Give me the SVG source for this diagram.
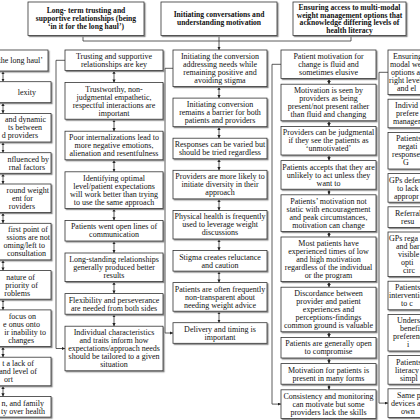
<svg xmlns="http://www.w3.org/2000/svg" width="420" height="420" viewBox="0 0 420 420">
<style>
.box{fill:#fff;stroke:#333;stroke-width:0.8;filter:url(#sh)}
.t{font-family:"Liberation Serif","Times New Roman",serif;font-size:8px;fill:#111;text-anchor:middle}
.e{text-anchor:end}
.s{text-anchor:start}
.h{font-weight:bold;font-size:7.6px}
.c{stroke:#333;stroke-width:0.8;fill:none}
.a{stroke:#333;stroke-width:0.8;fill:none;marker-start:url(#ah);marker-end:url(#ah)}
.f{marker-end:url(#ah)}
</style>
<defs>
<filter id="sh" x="-5%" y="-5%" width="115%" height="125%"><feDropShadow dx="1.2" dy="1.2" stdDeviation="0.3" flood-color="#888"/></filter>
<marker id="ah" viewBox="0 0 10 10" refX="10" refY="5" markerWidth="3.2" markerHeight="3.2" markerUnits="userSpaceOnUse" orient="auto-start-reverse"><path d="M0,0 L10,5 L0,10 z" fill="#222"/></marker>
</defs>
<rect width="420" height="420" fill="#fff"/>

<g id="connectors">
<path class="c" d="M83,35.5 V41 H351 V35.5"/>
<path class="c f" d="M219,35.5 V50"/>
<path class="c f" d="M65,60.3 H56 V348.5 H65"/>
<path class="c f" d="M173,68.3 H165 V333 H173"/>
<path class="c f" d="M281,64.3 H272 V404.1 H281"/>
<path class="c f" d="M388,72.3 H379 V403.1 H388"/>
<path class="a" d="M3,71 V81.7"/><path class="a" d="M3,102.7 V113.4"/><path class="a" d="M3,142 V152.7"/><path class="a" d="M3,173.3 V184"/><path class="a" d="M3,212.6 V223.3"/><path class="a" d="M3,259.9 V270.6"/><path class="a" d="M3,299.2 V309.9"/><path class="a" d="M3,346.5 V357.2"/><path class="a" d="M3,385.8 V396.5"/>
<path class="a" d="M114,70.6 V82.6"/><path class="a" d="M114,119.2 V131.2"/><path class="a" d="M114,159.8 V171.8"/><path class="a" d="M114,208.4 V220.4"/><path class="a" d="M114,241 V253"/><path class="a" d="M114,281.6 V293.6"/><path class="a" d="M114,314.2 V326.2"/>
<path class="a" d="M219,86.6 V98.1"/><path class="a" d="M219,126.7 V138.2"/><path class="a" d="M219,158.8 V170.3"/><path class="a" d="M219,198.9 V210.4"/><path class="a" d="M219,239 V250.5"/><path class="a" d="M219,271.1 V282.6"/><path class="a" d="M219,311.2 V322.7"/>
<path class="a" d="M329,78.6 V84.2"/><path class="a" d="M329,120.8 V126.4"/><path class="a" d="M329,155 V160.6"/><path class="a" d="M329,189.2 V194.8"/><path class="a" d="M329,231.4 V237"/><path class="a" d="M329,281.6 V287.2"/><path class="a" d="M329,331.8 V337.4"/><path class="a" d="M329,358 V363.6"/><path class="a" d="M329,384.2 V389.8"/>
</g>

<g id="h1"><rect class="box" x="28" y="2" width="116" height="33.5"/><text class="t h"><tspan x="86" y="13.35">Long- term trusting and</tspan><tspan x="86" y="21.35">supportive relationships (being</tspan><tspan x="86" y="29.35">‘in it for the long haul’)</tspan></text></g>
<g id="h2"><rect class="box" x="161" y="2" width="116" height="33.5"/><text class="t h"><tspan x="219" y="17.35">Initiating conversations and</tspan><tspan x="219" y="25.35">understanding motivation</tspan></text></g>
<g id="h3"><rect class="box" x="293" y="2" width="113" height="33.5"/><text class="t h"><tspan x="349.5" y="9.95">Ensuring access to multi-modal</tspan><tspan x="349.5" y="17.55">weight management options that</tspan><tspan x="349.5" y="25.15">acknowledge differing levels of</tspan><tspan x="349.5" y="32.75">health literacy</tspan></text></g>

<g id="a1"><rect class="box" x="-80" y="50" width="128" height="21"/><text class="t e"><tspan x="43" y="63.2">the long haul’</tspan></text></g>
<g id="a2"><rect class="box" x="-80" y="81.7" width="131" height="21"/><text class="t e"><tspan x="36" y="94.9">lexity</tspan></text></g>
<g id="a3"><rect class="box" x="-80" y="113.4" width="131" height="28.6"/><text class="t e"><tspan x="46" y="122.4">and dynamic</tspan><tspan x="42" y="130.4">ts between</tspan><tspan x="38" y="138.4">d providers</tspan></text></g>
<g id="a4"><rect class="box" x="-80" y="152.7" width="131" height="20.6"/><text class="t e"><tspan x="49" y="161.7">nfluenced by</tspan><tspan x="45" y="169.7">rnal factors</tspan></text></g>
<g id="a5"><rect class="box" x="-80" y="184" width="131" height="28.6"/><text class="t e"><tspan x="49" y="193">round weight</tspan><tspan x="33" y="201">ent for</tspan><tspan x="35" y="209">roviders</tspan></text></g>
<g id="a6"><rect class="box" x="-80" y="223.3" width="131" height="36.6"/><text class="t e"><tspan x="48" y="232.3">first point of</tspan><tspan x="50" y="240.3">ssions are not</tspan><tspan x="45" y="248.3">oming/left to</tspan><tspan x="46" y="256.3">consultation</tspan></text></g>
<g id="a7"><rect class="box" x="-80" y="270.6" width="131" height="28.6"/><text class="t e"><tspan x="35" y="279.6">nature of</tspan><tspan x="38" y="287.6">priority of</tspan><tspan x="30" y="295.6">roblems</tspan></text></g>
<g id="a8"><rect class="box" x="-80" y="309.9" width="131" height="36.6"/><text class="t e"><tspan x="36" y="318.9">focus on</tspan><tspan x="40" y="326.9">e onus onto</tspan><tspan x="46" y="334.9">ir inability to</tspan><tspan x="34" y="342.9">changes</tspan></text></g>
<g id="a9"><rect class="box" x="-80" y="357.2" width="131" height="28.6"/><text class="t e"><tspan x="34" y="366.2">t a lack of</tspan><tspan x="37" y="374.2">and level of</tspan><tspan x="13" y="382.2">ort</tspan></text></g>
<g id="a10"><rect class="box" x="-80" y="396.5" width="131" height="20.6"/><text class="t e"><tspan x="44" y="405.5">n, and family</tspan><tspan x="45" y="413.5">ty over health</tspan></text></g>

<g id="b1"><rect class="box" x="65" y="50" width="98" height="20.6"/><text class="t"><tspan x="114" y="59">Trusting and supportive</tspan><tspan x="114" y="67">relationships are key</tspan></text></g>
<g id="b2"><rect class="box" x="65" y="82.6" width="98" height="36.6"/><text class="t"><tspan x="114" y="91.6">Trustworthy, non-</tspan><tspan x="114" y="99.6">judgmental empathetic,</tspan><tspan x="114" y="107.6">respectful interactions are</tspan><tspan x="114" y="115.6">important</tspan></text></g>
<g id="b3"><rect class="box" x="65" y="131.2" width="98" height="28.6"/><text class="t"><tspan x="114" y="140.2">Poor internalizations lead to</tspan><tspan x="114" y="148.2">more negative emotions,</tspan><tspan x="114" y="156.2">alienation and resentfulness</tspan></text></g>
<g id="b4"><rect class="box" x="65" y="171.8" width="98" height="36.6"/><text class="t"><tspan x="114" y="180.8">Identifying optimal</tspan><tspan x="114" y="188.8">level/patient expectations</tspan><tspan x="114" y="196.8">will work better than trying</tspan><tspan x="114" y="204.8">to use the same approach</tspan></text></g>
<g id="b5"><rect class="box" x="65" y="220.4" width="98" height="20.6"/><text class="t"><tspan x="114" y="229.4">Patients went open lines of</tspan><tspan x="114" y="237.4">communication</tspan></text></g>
<g id="b6"><rect class="box" x="65" y="253" width="98" height="28.6"/><text class="t"><tspan x="114" y="262">Long-standing relationships</tspan><tspan x="114" y="270">generally produced better</tspan><tspan x="114" y="278">results</tspan></text></g>
<g id="b7"><rect class="box" x="65" y="293.6" width="98" height="20.6"/><text class="t"><tspan x="114" y="302.6">Flexibility and perseverance</tspan><tspan x="114" y="310.6">are needed from both sides</tspan></text></g>
<g id="b8"><rect class="box" x="65" y="326.2" width="98" height="44.6"/><text class="t"><tspan x="114" y="335.2">Individual characteristics</tspan><tspan x="114" y="343.2">and traits inform how</tspan><tspan x="114" y="351.2">expectations/approach needs</tspan><tspan x="114" y="359.2">should be tailored to a given</tspan><tspan x="114" y="367.2">situation</tspan></text></g>

<g id="c1"><rect class="box" x="173" y="50" width="94" height="36.6"/><text class="t"><tspan x="220" y="59">Initiating the conversion</tspan><tspan x="220" y="67">addressing needs while</tspan><tspan x="220" y="75">remaining positive and</tspan><tspan x="220" y="83">avoiding stigma</tspan></text></g>
<g id="c2"><rect class="box" x="173" y="98.1" width="94" height="28.6"/><text class="t"><tspan x="220" y="107.1">Initiating conversion</tspan><tspan x="220" y="115.1">remains a barrier for both</tspan><tspan x="220" y="123.1">patients and providers</tspan></text></g>
<g id="c3"><rect class="box" x="173" y="138.2" width="94" height="20.6"/><text class="t"><tspan x="220" y="147.2">Responses can be varied but</tspan><tspan x="220" y="155.2">should be tried regardless</tspan></text></g>
<g id="c4"><rect class="box" x="173" y="170.3" width="94" height="28.6"/><text class="t"><tspan x="220" y="179.3">Providers are more likely to</tspan><tspan x="220" y="187.3">initiate diversity in their</tspan><tspan x="220" y="195.3">approach</tspan></text></g>
<g id="c5"><rect class="box" x="173" y="210.4" width="94" height="28.6"/><text class="t"><tspan x="220" y="219.4">Physical health is frequently</tspan><tspan x="220" y="227.4">used to leverage weight</tspan><tspan x="220" y="235.4">discussions</tspan></text></g>
<g id="c6"><rect class="box" x="173" y="250.5" width="94" height="20.6"/><text class="t"><tspan x="220" y="259.5">Stigma creates reluctance</tspan><tspan x="220" y="267.5">and caution</tspan></text></g>
<g id="c7"><rect class="box" x="173" y="282.6" width="94" height="28.6"/><text class="t"><tspan x="220" y="291.6">Patients are often frequently</tspan><tspan x="220" y="299.6">non-transparent about</tspan><tspan x="220" y="307.6">needing weight advice</tspan></text></g>
<g id="c8"><rect class="box" x="173" y="322.7" width="94" height="20.6"/><text class="t"><tspan x="220" y="331.7">Delivery and timing is</tspan><tspan x="220" y="339.7">important</tspan></text></g>

<g id="d1"><rect class="box" x="281" y="50" width="95" height="28.6"/><text class="t"><tspan x="328.5" y="59">Patient motivation for</tspan><tspan x="328.5" y="67">change is fluid and</tspan><tspan x="328.5" y="75">sometimes elusive</tspan></text></g>
<g id="d2"><rect class="box" x="281" y="84.2" width="95" height="36.6"/><text class="t"><tspan x="328.5" y="93.2">Motivation is seen by</tspan><tspan x="328.5" y="101.2">providers as being</tspan><tspan x="328.5" y="109.2">present/not present rather</tspan><tspan x="328.5" y="117.2">than fluid and changing</tspan></text></g>
<g id="d3"><rect class="box" x="281" y="126.4" width="95" height="28.6"/><text class="t"><tspan x="328.5" y="135.4">Providers can be judgmental</tspan><tspan x="328.5" y="143.4">if they see the patients as</tspan><tspan x="328.5" y="151.4">‘unmotivated’</tspan></text></g>
<g id="d4"><rect class="box" x="281" y="160.6" width="95" height="28.6"/><text class="t"><tspan x="328.5" y="169.6">Patients accepts that they are</tspan><tspan x="328.5" y="177.6">unlikely to act unless they</tspan><tspan x="328.5" y="185.6">want to</tspan></text></g>
<g id="d5"><rect class="box" x="281" y="194.8" width="95" height="36.6"/><text class="t"><tspan x="328.5" y="203.8">Patients’ motivation not</tspan><tspan x="328.5" y="211.8">static with encouragement</tspan><tspan x="328.5" y="219.8">and peak circumstances,</tspan><tspan x="328.5" y="227.8">motivation can change</tspan></text></g>
<g id="d6"><rect class="box" x="281" y="237" width="95" height="44.6"/><text class="t"><tspan x="328.5" y="246">Most patients have</tspan><tspan x="328.5" y="254">experienced times of low</tspan><tspan x="328.5" y="262">and high motivation</tspan><tspan x="328.5" y="270">regardless of the individual</tspan><tspan x="328.5" y="278">or the program</tspan></text></g>
<g id="d7"><rect class="box" x="281" y="287.2" width="95" height="44.6"/><text class="t"><tspan x="328.5" y="296.2">Discordance between</tspan><tspan x="328.5" y="304.2">provider and patient</tspan><tspan x="328.5" y="312.2">experiences and</tspan><tspan x="328.5" y="320.2">perceptions-findings</tspan><tspan x="328.5" y="328.2">common ground is valuable</tspan></text></g>
<g id="d8"><rect class="box" x="281" y="337.4" width="95" height="20.6"/><text class="t"><tspan x="328.5" y="346.4">Patients are generally open</tspan><tspan x="328.5" y="354.4">to compromise</tspan></text></g>
<g id="d9"><rect class="box" x="281" y="363.6" width="95" height="20.6"/><text class="t"><tspan x="328.5" y="372.6">Motivation for patients is</tspan><tspan x="328.5" y="380.6">present in many forms</tspan></text></g>
<g id="d10"><rect class="box" x="281" y="389.8" width="95" height="28.6"/><text class="t"><tspan x="328.5" y="398.8">Consistency and monitoring</tspan><tspan x="328.5" y="406.8">can motivate but some</tspan><tspan x="328.5" y="414.8">providers lack the skills</tspan></text></g>

<g id="e1"><rect class="box" x="388" y="50" width="110" height="44.6"/><text class="t s"><tspan x="393" y="59">Ensuring</tspan><tspan x="390" y="67">modal we</tspan><tspan x="391" y="75">options a</tspan><tspan x="389" y="83">right level</tspan><tspan x="397" y="91">and el</tspan></text></g>
<g id="e2"><rect class="box" x="388" y="99.2" width="110" height="28.6"/><text class="t s"><tspan x="395" y="108.2">Individ</tspan><tspan x="396" y="116.2">prefere</tspan><tspan x="393" y="124.2">managem</tspan></text></g>
<g id="e3"><rect class="box" x="388" y="132.4" width="110" height="36.6"/><text class="t s"><tspan x="396" y="141.4">Patients</tspan><tspan x="398" y="149.4">negati</tspan><tspan x="392" y="157.4">responses</tspan><tspan x="403" y="165.4">G</tspan></text></g>
<g id="e4"><rect class="box" x="388" y="173.6" width="110" height="28.6"/><text class="t s"><tspan x="389" y="182.6">GPs defer</tspan><tspan x="397" y="190.6">to lack</tspan><tspan x="394" y="198.6">appropr</tspan></text></g>
<g id="e5"><rect class="box" x="388" y="206.8" width="110" height="20.6"/><text class="t s"><tspan x="395" y="215.8">Referral</tspan><tspan x="401" y="223.8">resu</tspan></text></g>
<g id="e6"><rect class="box" x="388" y="232" width="110" height="44.6"/><text class="t s"><tspan x="389" y="241">GPs rega</tspan><tspan x="396" y="249">and bar</tspan><tspan x="398" y="257">visible</tspan><tspan x="401" y="265">opti</tspan><tspan x="403" y="273">circ</tspan></text></g>
<g id="e7"><rect class="box" x="388" y="281.2" width="110" height="28.6"/><text class="t s"><tspan x="395" y="290.2">Patients</tspan><tspan x="389" y="298.2">intervention</tspan><tspan x="401" y="306.2">to c</tspan></text></g>
<g id="e8"><rect class="box" x="388" y="314.4" width="110" height="36.6"/><text class="t s"><tspan x="397" y="323.4">Underst</tspan><tspan x="400" y="331.4">benefi</tspan><tspan x="393" y="339.4">preference</tspan><tspan x="407" y="347.4">i</tspan></text></g>
<g id="e9"><rect class="box" x="388" y="355.6" width="110" height="28.6"/><text class="t s"><tspan x="396" y="364.6">Patients</tspan><tspan x="395" y="372.6">literacy c</tspan><tspan x="400" y="380.6">simpl</tspan></text></g>
<g id="e10"><rect class="box" x="388" y="388.8" width="110" height="28.6"/><text class="t s"><tspan x="397" y="397.8">Same pa</tspan><tspan x="391" y="405.8">devices an</tspan><tspan x="401" y="413.8">own</tspan></text></g>
</svg>
